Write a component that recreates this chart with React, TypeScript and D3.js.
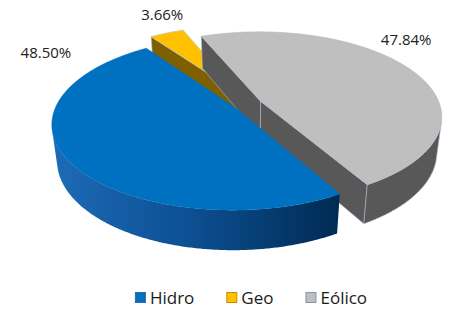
import { useEffect, useRef } from "react";
import * as d3 from "d3";

const categories = ["Hidro", "Geo", "Eólico"];
const shares = [48.5, 3.66, 47.84];
const topColors = ["#0070c0", "#ffc000", "#bfbfbf"];
const faceColors = ["#0b4a8a", "#7f6000", "#585858"];
const edgeColors = ["#0070c0", "#b8c4d6", "#aab8cf"];

const width = 451;
const height = 309;

export default function App() {
  const ref = useRef<SVGSVGElement>(null);

  useEffect(() => {
    const svg = d3.select(ref.current);
    svg.selectAll("*").remove();

    // camera for the tilted, widened pie (pie radius = 1)
    const tilt = (30 * Math.PI) / 180;
    const sinT = Math.sin(tilt);
    const cosT = Math.cos(tilt);
    const dist = 4.92;
    const focal = 811;
    const focalX = 880;
    const cx = 251;
    const cy = 103.5;
    const thick = 0.255;
    const explode = [0.1, 0.15, 0.06];
    const cam = { u: 0, v: -dist * cosT };

    const project = (u: number, v: number, z: number): [number, number] => {
      const zc = dist + v * cosT - z * sinT;
      return [cx + (focalX * u) / zc, cy - (focal * (v * sinT + z * cosT)) / zc];
    };

    const start = (150 * Math.PI) / 180;
    const arcs = d3
      .pie<number>()
      .sort(null)
      .startAngle(start)
      .endAngle(start + 2 * Math.PI)(shares);

    const poly = d3.line().curve(d3.curveLinearClosed);
    const defs = svg.append("defs");

    const slices = arcs.map((a, i) => {
      const mid = (a.startAngle + a.endAngle) / 2;
      const ou = explode[i] * Math.sin(mid);
      const ov = explode[i] * Math.cos(mid);
      return { a, i, mid, ou, ov, depth: ov + Math.cos(mid) * 0.5 };
    });

    // farthest slice first
    slices.sort((p, q) => q.depth - p.depth);

    slices.forEach(({ a, i, ou, ov }) => {
      const g = svg.append("g");
      const steps = d3.range(a.startAngle, a.endAngle, Math.PI / 360).concat([a.endAngle]);
      const rim = (phi: number, z: number) => project(ou + Math.sin(phi), ov + Math.cos(phi), z);
      const stroke = edgeColors[i];
      const sw = i === 0 ? 0.4 : 0.6;

      // radial cut faces
      const faces = [
        { phi: a.startAngle, n: [-Math.cos(a.startAngle), Math.sin(a.startAngle)] },
        { phi: a.endAngle, n: [Math.cos(a.endAngle), -Math.sin(a.endAngle)] },
      ];
      faces.forEach(({ phi, n }) => {
        const dot = n[0] * (cam.u - ou) + n[1] * (cam.v - ov);
        if (dot <= 0) return;
        g.append("path")
          .attr(
            "d",
            poly([
              project(ou, ov, 0),
              rim(phi, 0),
              rim(phi, -thick),
              project(ou, ov, -thick),
            ])
          )
          .attr("fill", faceColors[i])
          .attr("stroke", i === 0 ? faceColors[i] : stroke)
          .attr("stroke-width", sw)
          .attr("stroke-linejoin", "round");
      });

      // outer curved side, visible part only
      const vis = steps.filter((phi) => {
        const pu = ou + Math.sin(phi);
        const pv = ov + Math.cos(phi);
        return Math.sin(phi) * (cam.u - pu) + Math.cos(phi) * (cam.v - pv) > 0;
      });
      if (vis.length > 1) {
        const topPts = vis.map((phi) => rim(phi, 0));
        const botPts = vis.map((phi) => rim(phi, -thick)).reverse();
        let fill = faceColors[i];
        if (i === 0) {
          const xs = topPts.map((p) => p[0]);
          const grad = defs
            .append("linearGradient")
            .attr("id", "hidroSide")
            .attr("gradientUnits", "userSpaceOnUse")
            .attr("x1", d3.min(xs)!)
            .attr("x2", d3.max(xs)!)
            .attr("y1", 0)
            .attr("y2", 0);
          grad.append("stop").attr("offset", 0).attr("stop-color", "#1d6bb7");
          grad.append("stop").attr("offset", 0.5).attr("stop-color", "#0c4e90");
          grad.append("stop").attr("offset", 1).attr("stop-color", "#002a52");
          fill = "url(#hidroSide)";
        }
        g.append("path")
          .attr("d", poly(topPts.concat(botPts)))
          .attr("fill", fill)
          .attr("stroke", i === 0 ? "none" : stroke)
          .attr("stroke-width", sw);
      }

      // top face
      g.append("path")
        .attr("d", poly([project(ou, ov, 0), ...steps.map((phi) => rim(phi, 0))]))
        .attr("fill", topColors[i])
        .attr("stroke", stroke)
        .attr("stroke-width", sw)
        .attr("stroke-linejoin", "round");
    });

    // data labels, anchored outside the rim
    const fmt = (v: number) => d3.format(".2f")(v) + "%";
    const labelAt = [
      { deg: 298.1, r: 1.457 },
      { deg: 335.2, r: 1.459 },
      { deg: 48.4, r: 1.342 },
    ];
    const labelPos = labelAt.map(({ deg, r }) => {
      const t = (deg * Math.PI) / 180;
      return project(r * Math.sin(t), r * Math.cos(t), 0);
    });
    svg
      .append("g")
      .selectAll("text")
      .data(shares)
      .join("text")
      .attr("x", (_, i) => labelPos[i][0])
      .attr("y", (_, i) => labelPos[i][1])
      .attr("dy", "0.36em")
      .attr("text-anchor", "middle")
      .attr("font-family", "'Open Sans', sans-serif")
      .attr("font-size", 15)
      .attr("fill", "#222")
      .text((d) => fmt(d));

    // legend
    const legend = svg.append("g");
    let x = 0;
    categories.forEach((c, i) => {
      const item = legend.append("g").attr("transform", `translate(${x},0)`);
      item
        .append("rect")
        .attr("x", 0.5)
        .attr("y", 292.5)
        .attr("width", 10)
        .attr("height", 10)
        .attr("fill", topColors[i])
        .attr("stroke", i === 0 ? "#2f6aa8" : i === 1 ? "#c09000" : "#8796b0")
        .attr("stroke-width", 1);
      const t = item
        .append("text")
        .attr("x", 15)
        .attr("y", 304)
        .attr("font-family", "'Open Sans', sans-serif")
        .attr("font-size", 17)
        .attr("fill", "#1a1a1a")
        .text(c);
      const tw = (t.node() as SVGTextElement).getComputedTextLength();
      x += 15 + tw + 32;
    });
    const total = x - 32;
    legend.attr("transform", `translate(${251 - total / 2},0)`);
  }, []);

  return (
    <svg
      ref={ref}
      width={width}
      height={height}
      style={{ position: "absolute", left: 0, top: 0, background: "#fff" }}
    />
  );
}
